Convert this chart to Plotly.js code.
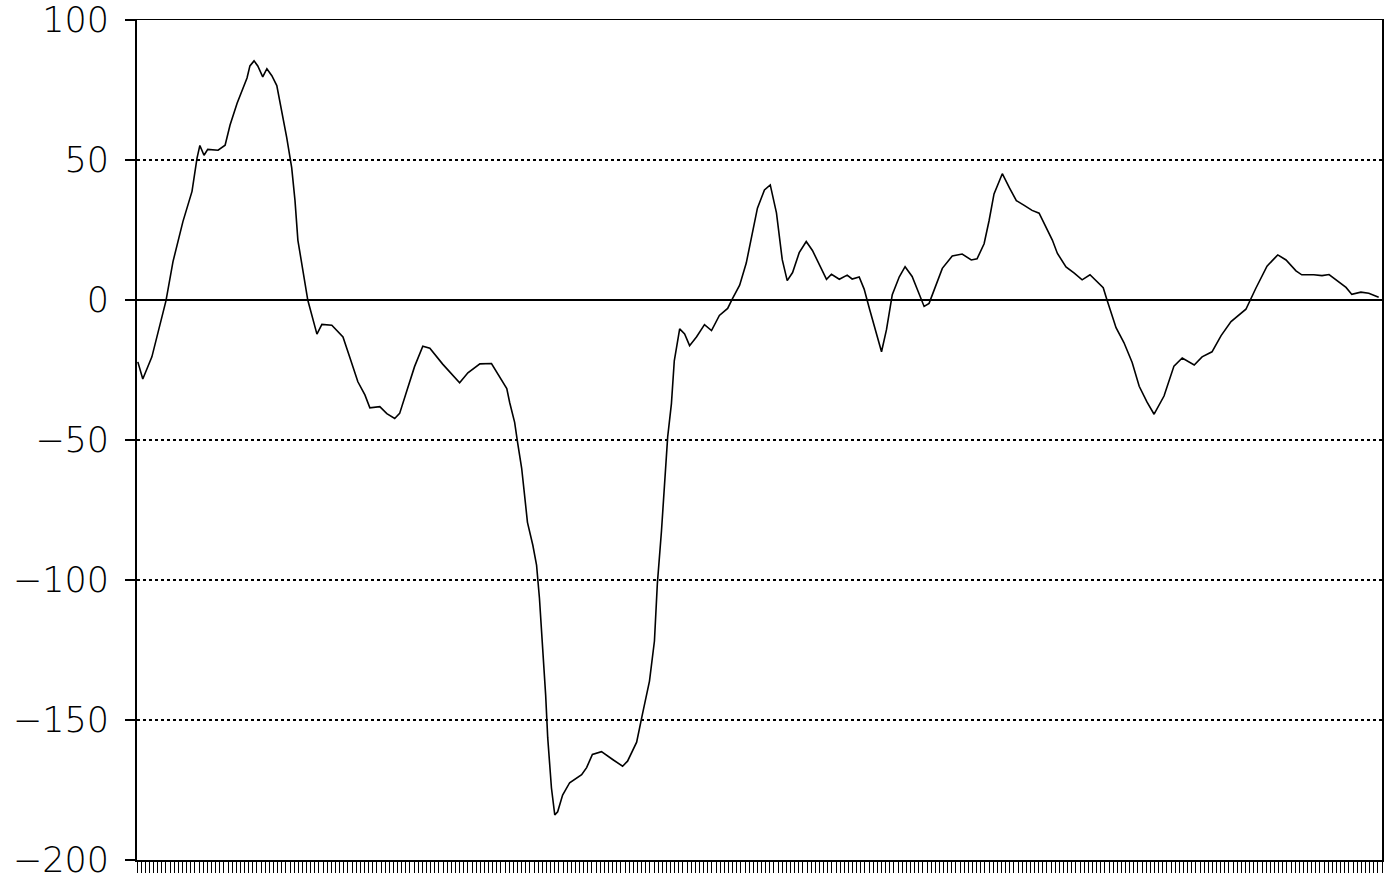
<!DOCTYPE html>
<html>
<head>
<meta charset="utf-8">
<script src="https://cdn.plot.ly/plotly-3.0.1.min.js"></script>
<style>
html,body{margin:0;padding:0;background:#fff;}
#chart{width:1385px;height:893px;}
</style>
</head>
<body>
<div id="chart"></div>
<script>
// Period index (horizontal position along the series)
const periods = [0.2,1.4,3.6,6.0,7.0,8.7,11.1,13.3,14.5,15.2,16.2,17.1,19.6,21.3,22.5,24.2,25.4,26.6,27.3,28.3,29.2,30.4,31.4,32.6,33.8,35.0,36.2,37.4,38.2,38.9,40.1,41.3,43.5,44.7,47.1,49.8,51.4,53.4,55.1,56.3,58.7,60.4,62.3,63.5,65.2,67.1,69.1,70.8,73.9,78.0,80.0,82.9,85.7,87.7,89.4,90.1,91.3,92.0,93.0,93.7,94.4,95.7,96.6,97.3,98.1,98.8,99.3,100.2,101.0,101.7,102.9,104.6,107.5,108.7,110.1,112.3,115.0,117.4,118.6,120.8,122.2,123.9,125.1,125.8,126.8,127.5,128.3,129.2,129.9,131.2,132.4,133.6,135.3,137.2,138.9,140.8,142.8,144.0,145.7,147.3,148.6,150.0,151.7,153.1,154.6,156.0,157.2,158.5,160.1,161.8,163.3,165.0,166.7,167.9,169.8,171.7,172.9,174.6,175.8,177.1,178.7,180.0,181.2,182.6,184.3,185.7,187.4,189.1,190.3,191.5,193.2,194.7,197.1,199.5,201.7,203.1,204.8,206.0,207.2,209.2,210.9,212.6,214.5,216.4,218.1,220.0,221.3,222.5,224.6,226.6,228.5,230.4,232.1,233.6,234.5,236.7,238.6,240.6,242.3,244.2,245.9,248.3,250.7,252.7,255.6,257.5,259.9,262.1,264.5,265.9,268.1,270.5,273.2,275.8,277.8,280.2,281.6,284.5,286.5,288.2,290.1,292.3,293.7,295.9,297.8,300.2];
// Series values
const values = [-22.1,-28.2,-20.3,-6.7,-0.3,13.7,28.0,38.8,50.6,55.2,51.7,53.8,53.5,55.3,62.5,70.3,75.0,79.3,83.6,85.4,83.6,79.7,82.6,80.1,76.6,67.6,58.0,47.3,35.5,21.3,10.6,-0.1,-12.2,-8.7,-9.0,-13.2,-20.3,-29.2,-33.9,-38.5,-38.1,-40.6,-42.3,-40.5,-32.6,-23.8,-16.5,-17.2,-22.9,-29.6,-26.0,-22.8,-22.7,-27.7,-31.6,-36.6,-43.7,-50.8,-60.1,-69.7,-79.4,-87.6,-94.7,-106.5,-123.3,-141.1,-156.4,-174.3,-183.9,-182.8,-176.8,-172.4,-169.5,-167.0,-162.3,-161.3,-164.1,-166.5,-164.7,-157.9,-147.9,-136.1,-121.8,-101.4,-82.5,-65.7,-48.9,-37.1,-21.7,-10.3,-12.1,-16.3,-13.1,-8.8,-10.9,-5.5,-3.0,0.6,5.3,13.2,23.2,32.8,39.3,41.1,31.1,14.4,6.9,9.8,16.9,20.9,17.7,12.3,7.4,9.2,7.4,8.9,7.5,8.2,3.9,-3.2,-11.4,-18.5,-10.6,1.9,8.3,11.9,8.4,2.0,-2.3,-1.2,5.6,11.3,15.7,16.4,14.3,14.7,20.1,28.3,37.9,45.1,40.1,35.5,33.8,32.0,31.0,25.6,21.4,16.7,11.8,9.6,7.2,9.0,6.5,4.4,0.1,-9.9,-15.2,-22.3,-30.8,-36.5,-40.8,-34.3,-23.6,-20.7,-23.2,-20.3,-18.5,-12.7,-7.7,-5.9,-3.3,4.2,12.1,16.1,14.3,10.4,9.0,9.0,8.7,9.1,7.0,4.5,2.0,2.8,2.4,1.0];
// Y axis ticks
const yTicks = [100, 50, 0, -50, -100, -150, -200];
const yTickLabels = ['100', '50', '0', '\u221250', '\u2212100', '\u2212150', '\u2212200'];

const trace = {
  x: periods,
  y: values,
  type: 'scatter',
  mode: 'lines',
  line: {color: '#000', width: 1.6},
  hoverinfo: 'skip'
};

const layout = {
  width: 1385,
  height: 893,
  margin: {l: 137, r: 3, t: 20, b: 33},
  paper_bgcolor: '#fff',
  plot_bgcolor: '#fff',
  showlegend: false,
  font: {family: 'DejaVu Sans', color: '#000'},
  xaxis: {
    range: [0, 301],
    showgrid: false,
    zeroline: false,
    showline: true,
    linecolor: '#000',
    linewidth: 1.5,
    mirror: true,
    ticks: 'outside',
    tickmode: 'linear',
    tick0: 0,
    dtick: 1,
    ticklen: 11,
    tickwidth: 1,
    tickcolor: '#000',
    showticklabels: false
  },
  yaxis: {
    range: [-200, 100],
    tickmode: 'array',
    tickvals: yTicks,
    ticktext: yTickLabels,
    showgrid: true,
    gridcolor: '#000',
    gridwidth: 1.3,
    griddash: 'dot',
    zeroline: true,
    zerolinecolor: '#000',
    zerolinewidth: 1.5,
    showline: true,
    linecolor: '#000',
    linewidth: 2,
    mirror: true,
    ticks: 'outside',
    ticklen: 10,
    tickwidth: 1.5,
    tickcolor: '#000',
    ticklabelstandoff: 9,
    tickfont: {family: 'DejaVu Sans', size: 35, weight: 200, color: '#000'}
  }
};

Plotly.newPlot('chart', [trace], layout, {displayModeBar: false, staticPlot: true});
</script>
</body>
</html>
